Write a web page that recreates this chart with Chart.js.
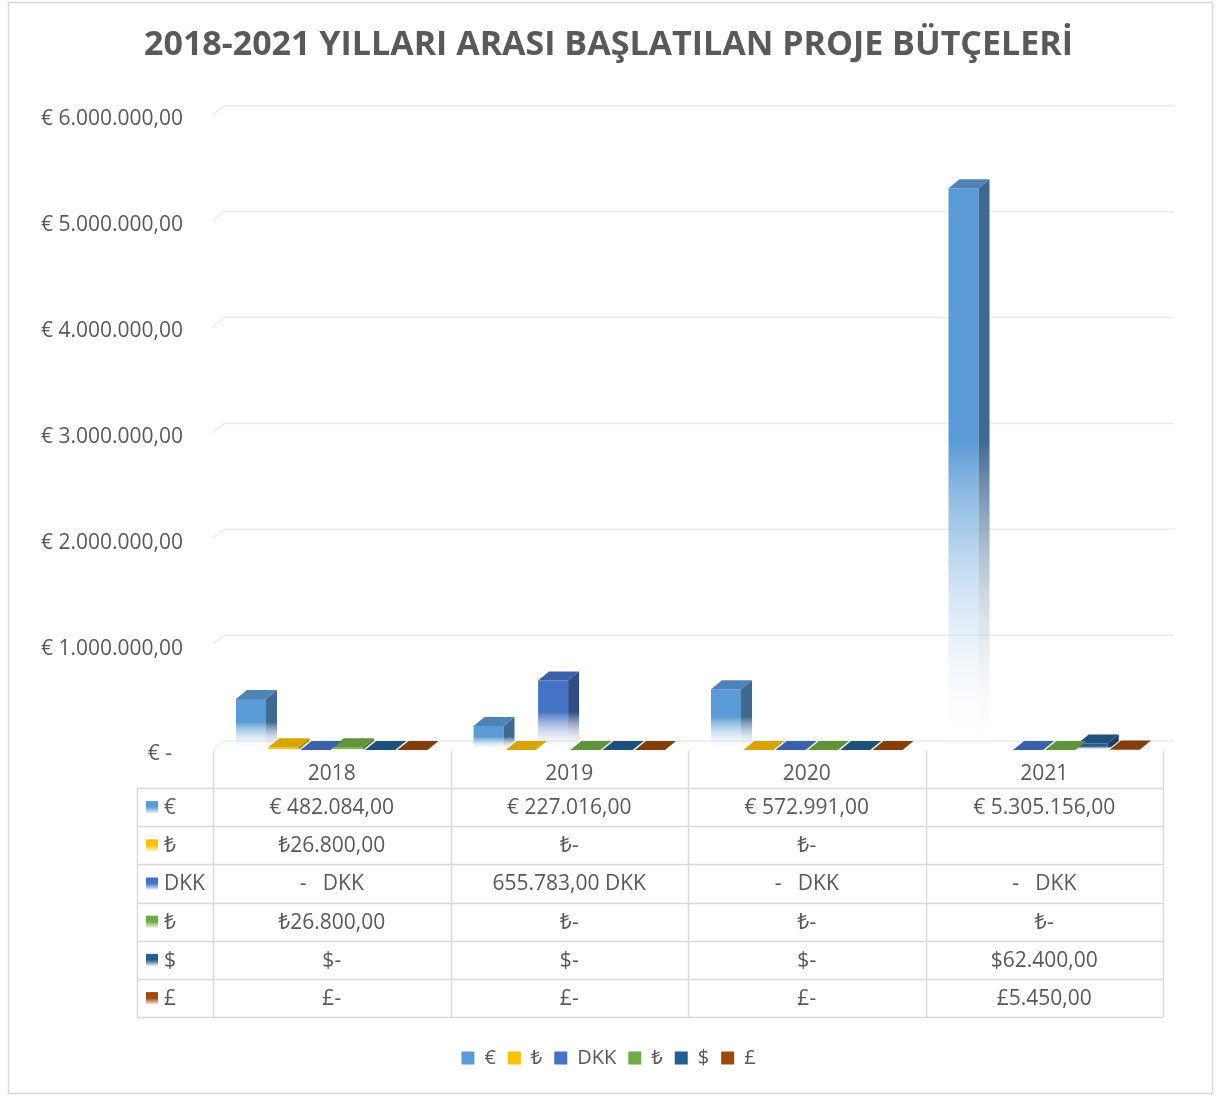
<!DOCTYPE html>
<html>
<head>
<meta charset="utf-8">
<script src="https://cdn.jsdelivr.net/npm/chart.js@4.4.1/dist/chart.umd.min.js"></script>
<style>
  html, body { margin: 0; padding: 0; background: #fff; }
  canvas { display: block; }
</style>
</head>
<body>
<canvas id="chart" width="1217" height="1097"></canvas>
<script>
// chart data
const years = ['2018', '2019', '2020', '2021'];
const seriesNames = ['€', '₺', 'DKK', '₺', '$', '£'];
const eurValues = [482084, 227016, 572991, 5305156];
const tryValues = [26800, 0, 0, null];
const dkkValues = [0, 655783, 0, 0];
const try2Values = [26800, 0, 0, 0];
const usdValues = [0, 0, 0, 62400];
const gbpValues = [0, 0, 0, 5450];
const yTickValues = [0, 1000000, 2000000, 3000000, 4000000, 5000000, 6000000];

const seriesColors = ['#5B9BD5', '#FFC000', '#4472C4', '#70AD47', '#255E91', '#9E480E'];
const TEXT = '#595959';
const LINE = '#d9d9d9';
const FONT = "'Open Sans', 'Noto Sans', sans-serif";
const DX = 11, DY = 9; // depth of the 3d bars

const fmt = v => v.toLocaleString('de-DE', { minimumFractionDigits: 2, maximumFractionDigits: 2 });

// how each row of the data table shows its numbers
const cellFormats = [
  v => '€ ' + fmt(v),
  v => v ? '₺' + fmt(v) : '₺-',
  v => v ? fmt(v) + ' DKK' : '-   DKK',
  v => v ? '₺' + fmt(v) : '₺-',
  v => v ? '$' + fmt(v) : '$-',
  v => v ? '£' + fmt(v) : '£-',
];

function shade(hex, f) {
  const n = parseInt(hex.slice(1), 16);
  const r = Math.round(((n >> 16) & 255) * f);
  const g = Math.round(((n >> 8) & 255) * f);
  const b = Math.round((n & 255) * f);
  return `rgb(${r},${g},${b})`;
}
function alpha(hex, a) {
  const n = parseInt(hex.slice(1), 16);
  return `rgba(${(n >> 16) & 255},${(n >> 8) & 255},${n & 255},${a})`;
}

function fadeGradient(ctx, color, top, base) {
  const g = ctx.createLinearGradient(0, top, 0, base);
  g.addColorStop(0, color);
  g.addColorStop(0.45, color);
  g.addColorStop(1, 'rgba(255,255,255,0.05)');
  return g;
}

// front face: solid at the top, fading out to the floor
function frontFill(context) {
  const color = seriesColors[context.datasetIndex];
  if (context.type !== 'data' || context.raw == null) return color;
  const y = context.chart.scales.y;
  if (!y) return color;
  const top = y.getPixelForValue(context.raw);
  const base = y.getPixelForValue(0);
  if (!isFinite(top) || !isFinite(base) || base - top < 2) return color;
  return fadeGradient(context.chart.ctx, color, top, base);
}

const datasets = [eurValues, tryValues, dkkValues, try2Values, usdValues, gbpValues].map((data, i) => ({
  label: seriesNames[i],
  data: data,
  backgroundColor: frontFill,
  borderWidth: 0,
  categoryPercentage: 0.816,
  barPercentage: 0.93,
}));

const frame = {
  id: 'frame',
  beforeDraw(chart) {
    const ctx = chart.ctx;
    ctx.save();
    ctx.fillStyle = '#fff';
    ctx.fillRect(0, 0, chart.width, chart.height);
    ctx.strokeStyle = LINE;
    ctx.lineWidth = 1.5;
    ctx.strokeRect(8.5, 2.5, chart.width - 13, chart.height - 6);
    ctx.restore();
  }
};

const bar3d = {
  id: 'bar3d',
  // gridlines sit on the back wall
  beforeDatasetsDraw(chart) {
    const { ctx, chartArea, scales: { y } } = chart;
    ctx.save();
    ctx.strokeStyle = '#ebebeb';
    ctx.lineWidth = 1.5;
    yTickValues.forEach(v => {
      const yp = y.getPixelForValue(v);
      ctx.beginPath();
      ctx.moveTo(chartArea.left, yp);
      ctx.lineTo(chartArea.left + DX, yp - DY);
      ctx.lineTo(chartArea.right + DX, yp - DY);
      ctx.stroke();
    });
    ctx.restore();
  },
  afterDatasetDraw(chart, args) {
    const ctx = chart.ctx;
    const i = args.index;
    const color = seriesColors[i];
    const data = chart.data.datasets[i].data;
    ctx.save();
    args.meta.data.forEach((bar, j) => {
      if (data[j] == null) return;
      const { x, y, base, width } = bar.getProps(['x', 'y', 'base', 'width'], true);
      const l = x - width / 2, r = x + width / 2;
      if (base - y > 1) {
        ctx.fillStyle = fadeGradient(ctx, shade(color, 0.68), y, base);
        ctx.beginPath();
        ctx.moveTo(r, y);
        ctx.lineTo(r + DX, y - DY);
        ctx.lineTo(r + DX, base - DY);
        ctx.lineTo(r, base);
        ctx.closePath();
        ctx.fill();
      }
      ctx.fillStyle = shade(color, 0.85);
      ctx.beginPath();
      ctx.moveTo(l, y);
      ctx.lineTo(l + DX, y - DY);
      ctx.lineTo(r + DX, y - DY);
      ctx.lineTo(r, y);
      ctx.closePath();
      ctx.fill();
    });
    ctx.restore();
  }
};

const dataTable = {
  id: 'dataTable',
  afterDraw(chart) {
    const { ctx, chartArea, scales: { x } } = chart;
    const colW = (chartArea.right - chartArea.left) / years.length;
    const top = chartArea.bottom + 1;
    const headH = 37, rowH = 38.2;
    const labelLeft = 137;
    const bottom = top + headH + rowH * seriesNames.length;
    ctx.save();
    ctx.strokeStyle = LINE;
    ctx.lineWidth = 1.5;
    ctx.beginPath();
    for (let c = 0; c <= years.length; c++) {
      const xp = Math.round(chartArea.left + c * colW) + 0.5;
      ctx.moveTo(xp, top);
      ctx.lineTo(xp, bottom);
    }
    ctx.moveTo(labelLeft + 0.5, top + headH);
    ctx.lineTo(labelLeft + 0.5, bottom);
    for (let r = 0; r <= seriesNames.length; r++) {
      const yp = Math.round(top + headH + r * rowH) + 0.5;
      ctx.moveTo(labelLeft, yp);
      ctx.lineTo(chartArea.right, yp);
    }
    ctx.stroke();

    ctx.fillStyle = TEXT;
    ctx.font = `21px ${FONT}`;
    ctx.textBaseline = 'middle';
    ctx.textAlign = 'center';
    years.forEach((yr, c) => {
      ctx.fillText(yr, x.getPixelForValue(c), top + headH / 2 + 5);
    });
    datasets.forEach((ds, r) => {
      const cy = top + headH + r * rowH + rowH / 2 + 1;
      // legend key of the row
      const g = ctx.createLinearGradient(0, cy - 7, 0, cy + 5);
      g.addColorStop(0, seriesColors[r]);
      g.addColorStop(0.5, seriesColors[r]);
      g.addColorStop(1, alpha(seriesColors[r], 0.15));
      ctx.fillStyle = g;
      ctx.fillRect(146, cy - 7, 12, 12);
      ctx.fillStyle = TEXT;
      ctx.textAlign = 'left';
      ctx.fillText(seriesNames[r], 164, cy);
      ctx.textAlign = 'center';
      ds.data.forEach((v, c) => {
        if (v == null) return;
        ctx.fillText(cellFormats[r](v), x.getPixelForValue(c), cy);
      });
    });
    ctx.restore();
  }
};

new Chart(document.getElementById('chart'), {
  type: 'bar',
  data: { labels: years, datasets: datasets },
  plugins: [frame, bar3d, dataTable],
  options: {
    responsive: false,
    animation: false,
    layout: { padding: { left: 0, right: 0, top: 0, bottom: 19 } },
    scales: {
      x: {
        grid: { display: false },
        border: { display: false },
        ticks: { display: false },
        afterFit: axis => { axis.height = 286; },
      },
      y: {
        min: 0,
        max: 6000000,
        afterBuildTicks: axis => { axis.ticks = yTickValues.map(v => ({ value: v })); },
        grid: { display: false },
        border: { display: false },
        ticks: {
          color: TEXT,
          padding: 22,
          labelOffset: 4.5,
          font: { family: FONT, size: 21 },
          callback: v => v === 0 ? '€ -  ' : '€ ' + fmt(v),
        },
        afterFit: axis => { axis.width = 213; },
      },
      // empty right margin so title and legend stay centred on the page
      yRight: {
        position: 'right',
        grid: { display: false },
        border: { display: false },
        ticks: { display: false },
        afterFit: axis => { axis.width = 54; },
      },
    },
    plugins: {
      title: {
        display: true,
        text: '2018-2021 YILLARI ARASI BAŞLATILAN PROJE BÜTÇELERİ',
        color: TEXT,
        font: { family: FONT, size: 34, weight: 'bold' },
        padding: { top: 25, bottom: 49 },
      },
      legend: {
        position: 'bottom',
        labels: {
          color: TEXT,
          boxWidth: 13,
          boxHeight: 13,
          padding: 12,
          font: { family: FONT, size: 20 },
          generateLabels: chart => Chart.defaults.plugins.legend.labels.generateLabels(chart)
            .map(item => Object.assign(item, { fillStyle: seriesColors[item.datasetIndex], lineWidth: 0 })),
        },
      },
      tooltip: { enabled: false },
    },
  },
});
</script>
</body>
</html>
